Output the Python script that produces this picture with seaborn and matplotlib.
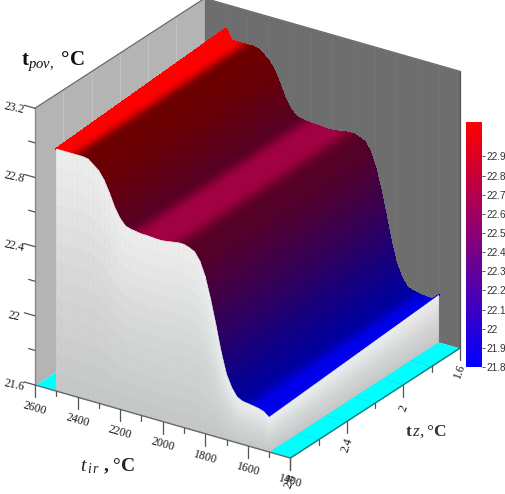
import numpy as np
import matplotlib
matplotlib.use("Agg")
import matplotlib.pyplot as plt
from matplotlib.cm import ScalarMappable
from matplotlib.colors import Normalize
from mpl_toolkits.mplot3d import proj3d
import seaborn as sns

# ---- data ----
tir_vals = [2500, 2475, 2450, 2425, 2400, 2375, 2350, 2325, 2300, 2275, 2250,
            2225, 2200, 2175, 2150, 2125, 2100, 2075, 2050, 2025, 2000,
            1975, 1950, 1925, 1900, 1875, 1850, 1825, 1800, 1775, 1750,
            1725, 1700, 1675, 1650, 1625, 1600, 1575, 1550, 1525, 1500]
t_front = [23.00, 23.00, 23.00, 23.00, 23.00, 23.00, 22.995, 22.97, 22.945, 22.90, 22.835,
           22.76, 22.705, 22.67, 22.66, 22.655, 22.65, 22.65, 22.647, 22.645, 22.645,
           22.65, 22.655, 22.66, 22.66, 22.65, 22.635, 22.59, 22.51, 22.39, 22.25,
           22.10, 21.98, 21.91, 21.865, 21.85, 21.845, 21.84, 21.835, 21.825, 21.80]
t_back = [23.06, 23.00, 23.00, 23.00, 23.00, 23.00, 22.995, 22.97, 22.945, 22.90, 22.835,
          22.76, 22.705, 22.67, 22.66, 22.655, 22.65, 22.65, 22.647, 22.645, 22.645,
          22.65, 22.655, 22.66, 22.66, 22.65, 22.635, 22.59, 22.51, 22.39, 22.25,
          22.10, 21.98, 21.91, 21.865, 21.85, 21.845, 21.84, 21.835, 21.84, 21.87]
tz_vals = [2.8, 1.6]

tir_major = [2600, 2400, 2200, 2000, 1800, 1600, 1400]
tir_minor = [2500, 2300, 2100, 1900, 1700, 1500]
tir_labels = ["2600", "2400", "2200", "2000", "1800", "1600", "1400"]
tz_major = [2.8, 2.4, 2.0, 1.6]
tz_minor = [2.6, 2.2, 1.8]
tz_labels = ["2.8", "2.4", "2", "1.6"]
t_major = [23.2, 22.8, 22.4, 22.0, 21.6]
t_minor = [23.0, 22.6, 22.2, 21.8]
t_labels = ["23.2", "22.8", "22.4", "22", "21.6"]
cbar_ticks = [21.8, 21.9, 22.0, 22.1, 22.2, 22.3, 22.4, 22.5, 22.6, 22.7, 22.8, 22.9]
cbar_labels = ["21.8", "21.9", "22", "22.1", "22.2", "22.3", "22.4", "22.5", "22.6", "22.7", "22.8", "22.9"]
cbar_range = (21.8, 23.08)
surface_range = (21.85, 22.98)
wall_tz_grid = [2.6, 2.4, 2.2, 2.0, 1.8]
wall_tir_grid = [1500, 1600, 1700, 1800, 1900, 2000, 2100, 2200, 2300, 2400, 2500]

sns.set_theme(style="white")
plt.rcParams["mathtext.fontset"] = "custom"
plt.rcParams["mathtext.rm"] = "Liberation Serif"
plt.rcParams["mathtext.it"] = "Liberation Serif:italic"
plt.rcParams["mathtext.bf"] = "Liberation Serif:bold"
plt.rcParams["font.family"] = "Liberation Serif"

W, H = 506, 494
fig = plt.figure(figsize=(W / 100, H / 100), dpi=100, facecolor="white")
ax = fig.add_subplot(projection="3d", computed_zorder=False, proj_type="ortho")
ax.view_init(elev=25.5, azim=-56.4)
ax.set_box_aspect((1, 1, 1))
ax.set_xlim(2600, 1400, view_margin=0)
ax.set_ylim(2.8, 1.6, view_margin=0)
ax.set_zlim(21.6, 23.2, view_margin=0)
ax.set_axis_off()
ax.patch.set_alpha(0)


def screen(x, y, z):
    a, b, _ = proj3d.proj_transform(x, y, z, ax.get_proj())
    return ax.transData.transform((a, b))


# place the cube: left corner at pixel (35, 385), width 425 px
S = 400.0
ax.set_position([0, 0, S / W, S / H])
ax.apply_aspect()
d = screen(1400, 1.6, 21.6)[0] - screen(2600, 2.8, 21.6)[0]
S *= 425.0 / d
ax.set_position([0, 0, S / W, S / H])
ax.apply_aspect()
p = screen(2600, 2.8, 21.6)
ax.set_position([(35 - p[0]) / W, (H - 385 - p[1]) / H, S / W, S / H])
ax.apply_aspect()

cmap = sns.blend_palette(["#0000ff", "#ff0000"], as_cmap=True)
norm = Normalize(*cbar_range)
surf_norm = Normalize(*surface_range, clip=True)


def plane(X, Y, Z, color, z):
    ax.plot_surface(np.array(X, float), np.array(Y, float), np.array(Z, float),
                    color=color, shade=False, linewidth=0, zorder=z)


# walls and floor
plane([[2600, 2600], [2600, 2600]], [[2.8, 1.6], [2.8, 1.6]], [[21.6, 21.6], [23.2, 23.2]], "#b4b4b4", 1)
plane([[2600, 1400], [2600, 1400]], [[1.6, 1.6], [1.6, 1.6]], [[21.6, 21.6], [23.2, 23.2]], "#6e6e6e", 1)
plane([[2600, 1400], [2600, 1400]], [[2.8, 2.8], [1.6, 1.6]], [[21.6, 21.6], [21.6, 21.6]], "#00ffff", 1)
for v in wall_tz_grid:
    ax.plot([2600, 2600], [v, v], [21.6, 23.2], color="#c2c2c2", lw=0.7, zorder=2)
    ax.plot([2600, 1400], [v, v], [21.6, 21.6], color="#10e4e4", lw=0.5, zorder=2)
for v in wall_tir_grid:
    ax.plot([v, v], [1.6, 1.6], [21.6, 23.2], color="#737373", lw=0.6, zorder=2)
    ax.plot([v, v], [2.8, 1.6], [21.6, 21.6], color="#10e4e4", lw=0.5, zorder=2)

# top surface: straight facets between the read columns, each painted as a gradient
tir = np.array(tir_vals, float)
tf = np.array(t_front)
tb = np.array(t_back)
u = (2600 - tir) / 1200
tm = 0.5 * (tf + tb)
slope = np.abs(np.diff(tm) / np.diff(u))
slope[0] = 0
slope[-1] = 0
win = np.array([slope[max(0, i - 2):i + 3].max() for i in range(len(slope))])
floor = 0.42 + 0.2 * (1 - surf_norm(0.5 * (tm[:-1] + tm[1:])))
shade = 1 - (1 - floor) * np.clip(win / 1.2, 0, 1)
shade = np.convolve(np.pad(shade, 1, mode="edge"), [0.25, 0.5, 0.25], mode="valid")

steps = 6
ug = np.concatenate([np.linspace(u[i], u[i + 1], steps, endpoint=False) for i in range(len(u) - 1)] + [[u[-1]]])
Xg = np.vstack([2600 - 1200 * ug] * 2)
Yg = np.vstack([np.full_like(ug, tz_vals[0]), np.full_like(ug, tz_vals[1])])
Zg = np.vstack([np.interp(ug, u, tf), np.interp(ug, u, tb)])
uc = 0.5 * (ug[:-1] + ug[1:])
rgba = np.array(cmap(surf_norm(np.interp(uc, u, tm))))
rgba[:, :3] *= np.interp(uc, 0.5 * (u[:-1] + u[1:]), shade)[:, None]
ax.plot_surface(Xg, Yg, Zg, rstride=1, cstride=1, facecolors=rgba[None, :, :],
                shade=False, linewidth=0.8, antialiased=False, zorder=3)

# light side faces
frac = np.linspace(0, 1, 14)
greys = sns.blend_palette(["#c6c6c6", "#d8d8d8", "#eeeeee"], as_cmap=True)
FX = np.tile(tir, (len(frac), 1))
FY = np.full_like(FX, tz_vals[0])
FZ = 21.6 + np.outer(frac, tf - 21.6)
fc = greys(0.5 * (frac[:-1] + frac[1:]))[:, None, :] * np.ones((1, len(tir) - 1, 4))
ax.plot_surface(FX, FY, FZ, rstride=1, cstride=1, facecolors=fc, shade=False,
                linewidth=0.4, antialiased=True, zorder=4)
EY = np.tile(np.array(tz_vals), (len(frac), 1))
EX = np.full_like(EY, tir_vals[-1])
EZ = 21.6 + np.outer(frac, [tf[-1] - 21.6, tb[-1] - 21.6])
ec = greys(0.5 * (frac[:-1] + frac[1:]))[:, None, :]
ax.plot_surface(EX, EY, EZ, rstride=1, cstride=1, facecolors=ec, shade=False,
                linewidth=0.4, antialiased=True, zorder=4)

# box edges
edge = "#6a6a6a"
ax.plot([2600, 2600], [2.8, 2.8], [21.6, 23.2], color="#8a8a8a", lw=1, zorder=5)
ax.plot([2600, 2600], [2.8, 1.6], [23.2, 23.2], color=edge, lw=1, zorder=5)
ax.plot([2600, 1400], [1.6, 1.6], [23.2, 23.2], color=edge, lw=1, zorder=5)
ax.plot([2600, 2600], [1.6, 1.6], [21.6, 23.2], color=edge, lw=0.8, zorder=2)
ax.plot([1400, 1400], [1.6, 1.6], [21.6, 23.2], color="#555555", lw=0.9, zorder=5)
ax.plot([2600, 1400], [2.8, 2.8], [21.6, 21.6], color=edge, lw=1, zorder=5)
ax.plot([1400, 1400], [2.8, 1.6], [21.6, 21.6], color="#207878", lw=1, zorder=5)


def label(x, y, z, s, rot, size):
    q = screen(x, y, z)
    fig.text(q[0] / W, q[1] / H, s, rotation=rot, rotation_mode="anchor", ha="center",
             va="center", fontsize=size, color="#1a1a1a")


# ticks and labels, positioned through the box's projection
tick_c = "#555555"
for v in tir_major:
    ax.plot([v, v], [2.8, 2.8], [21.6, 21.53], color=tick_c, lw=0.9, zorder=5)
for v in tir_minor:
    ax.plot([v, v], [2.8, 2.8], [21.6, 21.57], color=tick_c, lw=0.9, zorder=5)
for v, s in zip(tir_major, tir_labels):
    label(v, 2.8, 21.6 - 0.135, s, -16, 8.6)
for v in tz_major:
    ax.plot([1400, 1400], [v, v], [21.6, 21.53], color=tick_c, lw=0.9, zorder=5)
for v in tz_minor:
    ax.plot([1400, 1400], [v, v], [21.6, 21.57], color=tick_c, lw=0.9, zorder=5)
for v, s in zip(tz_major, tz_labels):
    label(1400, v, 21.6 - 0.135, s, 70, 8.6)
for v in t_major:
    ax.plot([2600, 2650], [2.8, 2.8], [v, v], color=tick_c, lw=0.9, zorder=5)
for v in t_minor:
    ax.plot([2600, 2630], [2.8, 2.8], [v, v], color=tick_c, lw=0.9, zorder=5)
for v, s in zip(t_major, t_labels):
    label(2700, 2.8, v - 0.035, s, -12, 8.6)

# axis titles
fig.text(21 / W, 1 - 65 / H, r"$\mathbf{t}_{\mathit{pov},}$ °C", fontsize=15,
         fontweight="bold", color="#111111", va="baseline")
fig.text(80 / W, 1 - 471 / H, r"$\mathit{t}_{\,i\,r}$ , °C", fontsize=14,
         fontweight="bold", color="#222222", va="baseline")
fig.text(405 / W, 1 - 436 / H, r"$\mathbf{t}\,\mathit{z},$°C", fontsize=12.5,
         fontweight="bold", color="#333333", va="baseline")

# colour bar
cax = fig.add_axes([466 / W, 1 - 367 / H, 15.5 / W, 245 / H])
cb = fig.colorbar(ScalarMappable(norm=norm, cmap=cmap), cax=cax)
cb.outline.set_linewidth(0)
cb.set_ticks(cbar_ticks, labels=cbar_labels)
cb.ax.tick_params(length=2.5, width=0.7, color="#555555", pad=1, labelsize=7.2,
                  labelcolor="#333333", right=True)
for lab in cb.ax.get_yticklabels():
    lab.set_family("Liberation Sans")

fig.savefig("out.png", dpi=100, facecolor="white")
